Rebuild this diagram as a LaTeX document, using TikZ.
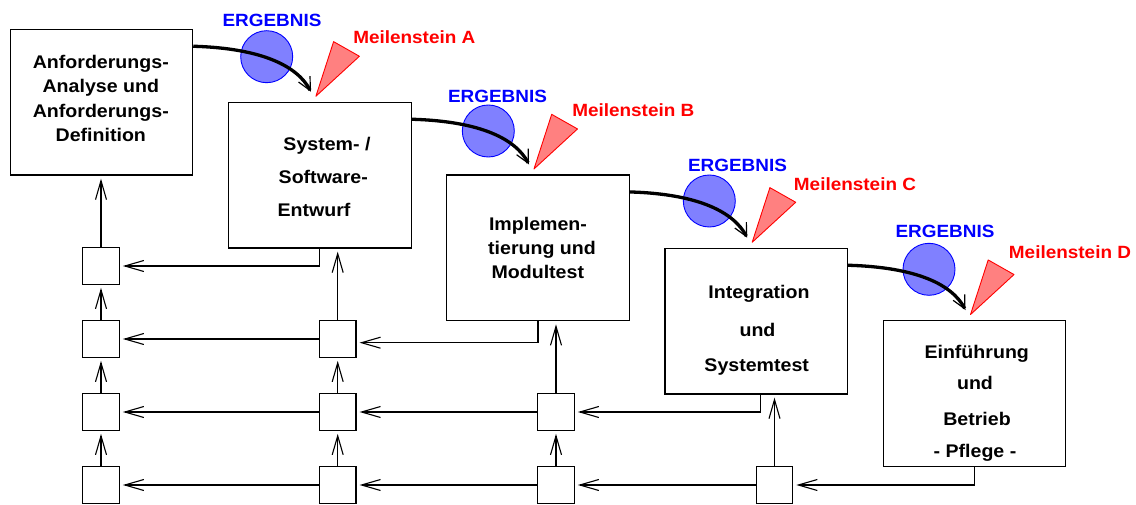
\documentclass[tikz,border=0pt]{standalone}
\usepackage{fontspec}
\setmainfont{Liberation Sans}[FakeStretch=1.07]
\usetikzlibrary{arrows.meta,calc}
\definecolor{ergfill}{RGB}{128,128,255}
\definecolor{msfill}{RGB}{255,128,128}
\begin{document}
\begin{tikzpicture}[x=1pt,y=-1pt,
  every node/.style={font=\fontsize{17.7}{20}\selectfont\bfseries},
  phase/.style={draw, line width=1.2pt, inner sep=0pt,
    minimum width=182.5pt, minimum height=145.7pt},
  slot/.style={draw, line width=1.1pt, minimum size=36.6pt, inner sep=0pt},
  fb/.style={line width=1.1pt,
    -{Straight Barb[length=19pt,width=11pt,line width=1.1pt]}, shorten >=3pt},
  flow/.style={line width=3.3pt,
    -{Straight Barb[length=13pt,width=13pt,line width=1.2pt]}},
  txt/.style={inner sep=0pt, text height=12.7pt, text depth=0pt, anchor=center,
    font=\fontsize{18.3}{20}\selectfont\bfseries},
  erg/.style={txt, text=blue, font=\fontsize{17.7}{20}\selectfont\bfseries},
  ms/.style={txt, text=red, font=\fontsize{17.7}{20}\selectfont\bfseries},
  result/.style={draw=blue, fill=ergfill, line width=0.9pt},
  milestone/.style={draw=red, fill=msfill, line width=0.9pt, line join=round},
]
\useasboundingbox (0,0) rectangle (1136,505);

% phases of the waterfall
\node[phase] (A) at (101.4,102.2) {};
\node[phase] (B) at (319.9,175.2) {};
\node[phase] (C) at (538.0,247.9) {};
\node[phase] (D) at (756.2,321.2) {};
\node[phase] (E) at (974.5,393.5) {};

\node[txt] (a1) at (100.8,62.2)  {Anforderungs-};
\node[txt] (a2) at (100.8,86.5)  {Analyse und};
\node[txt] (a3) at (100.8,110.8) {Anforderungs-};
\node[txt] (a4) at (100.8,135.0) {Definition};

\node[txt] (b1) at (327.0,144.5) {System- /};
\node[txt] (b2) at (323.3,177.0) {Software-};
\node[txt] (b3) at (314.0,209.7) {Entwurf};

\node[txt] (c1) at (538.0,223.8) {Implemen-};
\node[txt] (c2) at (542.0,247.8) {tierung und};
\node[txt] (c3) at (537.8,272.2) {Modultest};

\node[txt] (d1) at (759.0,292.5) {Integration};
\node[txt] (d2) at (757.5,330.0) {und};
\node[txt] (d3) at (756.7,365.5) {Systemtest};

\node[txt] (e1) at (976.7,351.7) {Einführung};
\node[txt] (e2) at (975.0,383.0) {und};
\node[txt] (e3) at (977.0,419.0) {Betrieb};
\node[txt] (e4) at (975.0,450.8) {- Pflege -};

% feedback slots: column = phase, row = level
\node[slot] (s11) at (101.0,266) {};
\node[slot] (s12) at (101.0,339) {};
\node[slot] (s13) at (101.0,412) {};
\node[slot] (s14) at (101.0,485) {};
\node[slot] (s22) at (337.7,339) {};
\node[slot] (s23) at (337.7,412) {};
\node[slot] (s24) at (337.7,485) {};
\node[slot] (s33) at (556.0,412) {};
\node[slot] (s34) at (556.0,485) {};
\node[slot] (s44) at (774.5,485) {};

% upward feedback
\draw[fb] (s14.north) -- (s13.south);
\draw[fb] (s13.north) -- (s12.south);
\draw[fb] (s12.north) -- (s11.south);
\draw[fb] (s11.north) -- (s11.north |- A.south);
\draw[fb] (s24.north) -- (s23.south);
\draw[fb] (s23.north) -- (s22.south);
\draw[fb] (s22.north) -- (s22.north |- B.south);
\draw[fb] (s34.north) -- (s33.south);
\draw[fb] (s33.north) -- (s33.north |- C.south);
\draw[fb] (s44.north) -- (s44.north |- D.south);

% leftward feedback
\draw[fb] (s22.west) -- (s12.east);
\draw[fb] (s23.west) -- (s13.east);
\draw[fb] (s33.west) -- (s23.east);
\draw[fb] (s24.west) -- (s14.east);
\draw[fb] (s34.west) -- (s24.east);
\draw[fb] (s44.west) -- (s34.east);

\coordinate (Bout) at (B.south);
\coordinate (Cout) at (C.south);
\coordinate (Dout) at ($(D.south)+(4,0)$);
\coordinate (Eout) at (E.south);
\draw[fb] (Bout) |- (s11.east);
\draw[fb] (Cout) |- ($(s22.east)+(0,3.7)$);
\draw[fb] (Dout) |- (s33.east);
\draw[fb] (Eout) |- (s44.east);

% results and milestones between phases
\foreach \src/\dst/\cx/\cy/\ex/\ey/\mx/\my/\L in {
    A/B/266.7/56.7/272.0/19.7/414.3/37.2/A,
    B/C/488.3/131.0/497.5/95.8/633.3/110.0/B,
    C/D/709.3/201.0/737.5/165.5/855.0/183.7/C,
    D/E/929.0/269.3/945.0/230.7/1070.0/252.2/D}{
  \coordinate (start\L) at ($(\src.north east)+(0,17.5)$);
  \coordinate (end\L) at ($(\dst.north)+(-9,-10)$);
  \coordinate (tip\L) at ($(\dst.north)+(-4,-5.5)$);
  \filldraw[result] (\cx,\cy) circle[radius=26];
  \filldraw[milestone] (tip\L) -- ++(17.7,-54.6) -- ++(25.8,14.6) -- cycle;
  \draw[flow] (start\L) .. controls +(70,2) and +(-13,-25) .. (end\L);
  \node[erg] (erg\L) at (\ex,\ey) {ERGEBNIS};
  \node[ms] (ms\L) at (\mx,\my) {Meilenstein \L};
}
\end{tikzpicture}
\end{document}
